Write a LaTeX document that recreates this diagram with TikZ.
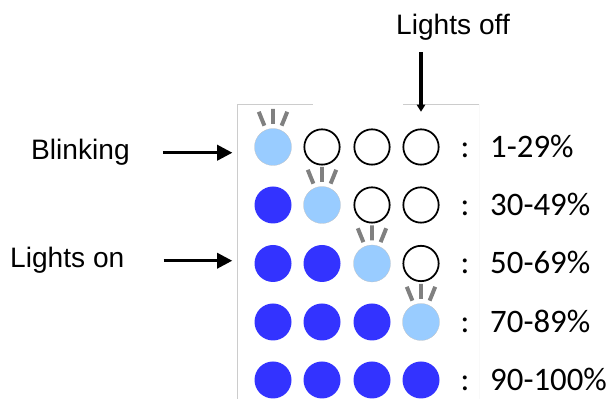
\documentclass[tikz,border=0pt]{standalone}
\usepackage{fontspec}
\setmainfont{Liberation Sans}
\newfontfamily\calibri{Carlito}
\usetikzlibrary{shapes.geometric, arrows.meta, positioning}
\definecolor{onblue}{HTML}{3333FF}
\definecolor{blinkblue}{HTML}{99CCFF}
\definecolor{raygray}{HTML}{808080}
\definecolor{framegray}{HTML}{CCCCCC}

\begin{document}
\begin{tikzpicture}[x=0.3mm, y=0.3mm]
		\tikzstyle{On} = [circle, minimum size=11.1mm, inner sep=0pt, fill=onblue]
		\tikzstyle{Blink} = [circle, minimum size=11.1mm, inner sep=0pt, fill=blinkblue, draw=gray!50, very thin]
		\tikzstyle{Off} = [circle, minimum size=10.6mm, inner sep=0pt, draw=black, line width=1.5pt, fill=white]
		\tikzstyle{Label} = [inner sep=0pt, font=\fontsize{24}{28}\selectfont]
		\tikzstyle{Range} = [inner sep=0pt, font=\calibri\fontsize{28}{32}\selectfont]
		\tikzstyle{arrow} = [line width=2.6pt, -{Triangle[length=13pt, width=13pt]}]
		\tikzstyle{ray} = [line width=3.4pt, raygray]
		
		\useasboundingbox (0,0) rectangle (615,399);
		
		% frame lines
		\draw [framegray, line width=0.6pt] (237,0) -- (237,295) -- (313,295);
		\draw [framegray, line width=0.6pt] (403,295) -- (479,295);
		\draw [gray!5, line width=0.6pt] (479,295) -- (479,0);
		
		% row 1
		\node (led11) [Blink] at (273,252) {};
		\node (led12) [Off] at (322,252) {};
		\node (led13) [Off] at (372,252) {};
		\node (led14) [Off] at (421,252) {};
		\node (col1) [Range, anchor=base] at (465,241.5) {:};
		\node (rng1) [Range, anchor=base west] at (490,241.5) {1-29\%};
		
		% row 2
		\node (led21) [On] at (273,194) {};
		\node (led22) [Blink] at (322,194) {};
		\node (led23) [Off] at (372,194) {};
		\node (led24) [Off] at (421,194) {};
		\node (col2) [Range, anchor=base] at (465,183.5) {:};
		\node (rng2) [Range, anchor=base west] at (490,183.5) {30-49\%};
		
		% row 3
		\node (led31) [On] at (273,135.5) {};
		\node (led32) [On] at (322,135.5) {};
		\node (led33) [Blink] at (372,135.5) {};
		\node (led34) [Off] at (421,135.5) {};
		\node (col3) [Range, anchor=base] at (465,125) {:};
		\node (rng3) [Range, anchor=base west] at (490,125) {50-69\%};
		
		% row 4
		\node (led41) [On] at (273,77) {};
		\node (led42) [On] at (322,77) {};
		\node (led43) [On] at (372,77) {};
		\node (led44) [Blink] at (421,77) {};
		\node (col4) [Range, anchor=base] at (465,66.5) {:};
		\node (rng4) [Range, anchor=base west] at (490,66.5) {70-89\%};
		
		% row 5
		\node (led51) [On] at (273,19) {};
		\node (led52) [On] at (322,19) {};
		\node (led53) [On] at (372,19) {};
		\node (led54) [On] at (421,19) {};
		\node (col5) [Range, anchor=base] at (465,8.5) {:};
		\node (rng5) [Range, anchor=base west] at (490,8.5) {90-100\%};
		
		% blinking rays
		\draw [ray] (led11.center) ++(112:23) -- ++(112:15) (led11.center) ++(90:23) -- ++(90:15) (led11.center) ++(68:23) -- ++(68:15);
		\draw [ray] (led22.center) ++(112:23) -- ++(112:15) (led22.center) ++(90:23) -- ++(90:15) (led22.center) ++(68:23) -- ++(68:15);
		\draw [ray] (led33.center) ++(112:23) -- ++(112:15) (led33.center) ++(90:23) -- ++(90:15) (led33.center) ++(68:23) -- ++(68:15);
		\draw [ray] (led44.center) ++(112:23) -- ++(112:15) (led44.center) ++(90:23) -- ++(90:15) (led44.center) ++(68:23) -- ++(68:15);
		
		% labels
		\node (blink) [Label, anchor=base west] at (31,239) {Blinking};
		\node (lon) [Label, anchor=base west] at (10,131) {Lights on};
		\node (loff) [Label, anchor=base west] at (396,364) {Lights off};
		
		\draw [arrow] ([xshift=9.9mm]blink.east) -- ([xshift=-6.6mm]blink.east -| led11.west);
		\draw [arrow] ([xshift=11.7mm]lon.east) -- ([xshift=-6.6mm]lon.east -| led31.west);
		\draw [line width=2.6pt, -{Triangle[length=6pt, width=7pt]}] ([yshift=-3.3mm]loff.south -| led14.north) -- ([yshift=5mm]led14.north);
\end{tikzpicture}
\end{document}
